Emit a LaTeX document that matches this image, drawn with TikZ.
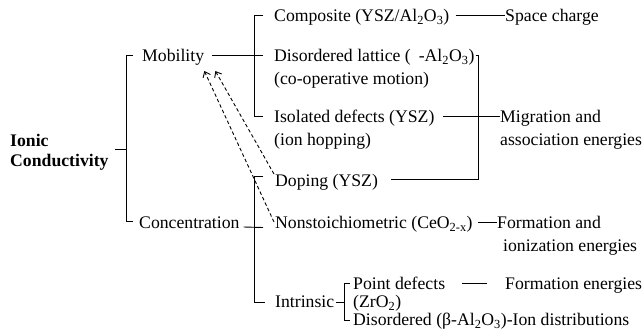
\documentclass[tikz,border=0pt]{standalone}
\usepackage{fontspec}
\setmainfont{Liberation Serif}
\usetikzlibrary{arrows.meta}
\begin{document}
\begin{tikzpicture}[x=1pt,y=-1pt,
  lbl/.style={anchor=base west, inner sep=0pt, font=\fontsize{17.7}{22}\selectfont},
  ttl/.style={anchor=base west, inner sep=0pt, font=\fontsize{17.7}{22}\selectfont\bfseries},
  ln/.style={line width=0.9pt},
  dsh/.style={line width=0.9pt, dash pattern=on 3.5pt off 2.5pt, -{Straight Barb[length=5pt,width=8pt]}}]
\useasboundingbox (0,0) rectangle (643,335);
% texts
\node[ttl] (ionic) at (10,146) {Ionic};
\node[ttl] (cond) at (10,166) {Conductivity};
\node[lbl] (mob) at (142,61.5) {Mobility};
\node[lbl] (conc) at (139,228) {Concentration};
\node[lbl] (comp) at (274,21.5) {Composite (YSZ/Al\textsubscript{2}O\textsubscript{3})};
\node[lbl] (disl) at (274,61.5) {Disordered lattice (\hspace{0.45em}-Al\textsubscript{2}O\textsubscript{3})};
\node[lbl] (coop) at (274,84) {(co-operative motion)};
\node[lbl] (iso) at (274,122.5) {Isolated defects (YSZ)};
\node[lbl] (hop) at (274,145) {(ion hopping)};
\node[lbl] (dop) at (275,186) {Doping (YSZ)};
\node[lbl] (nons) at (275,228.5) {Nonstoichiometric (CeO\textsubscript{2-x})};
\node[lbl] (intr) at (275,307.5) {Intrinsic};
\node[lbl] (space) at (505,21.5) {Space charge};
\node[lbl] (migr) at (500,122.5) {Migration and};
\node[lbl] (assoc) at (500,145) {association energies};
\node[lbl] (form) at (497,228.5) {Formation and};
\node[lbl] (ioniz) at (503,251) {ionization energies};
\node[lbl] (pdef) at (353,289.5) {Point defects};
\node[lbl] (fen) at (505,289.5) {Formation energies};
\node[lbl] (zro) at (353,307.5) {(ZrO\textsubscript{2})};
\node[lbl] (dis2) at (353,325.5) {Disordered (β-Al\textsubscript{2}O\textsubscript{3})-Ion distributions};
% bracket joints
\coordinate (b1t) at (126,55);
\coordinate (b1m) at (126,149);
\coordinate (b1b) at (126,221);
\coordinate (rootL) at (115,149);
\coordinate (b2t) at (254,15);
\coordinate (b2b) at (254,116);
\coordinate (b3t) at ([xshift=4pt,yshift=6.5pt]disl.base east);
\coordinate (dopR) at ([xshift=13pt,yshift=6.5pt]dop.base east);
\coordinate (b4t) at (254,176);
\coordinate (b4b) at (254,302);
\coordinate (b5t) at (344,283);
\coordinate (b5m) at (344,302);
\coordinate (b5b) at (344,320);
\coordinate (tipA) at ([yshift=-9.5pt]mob.base east);
\coordinate (tipB) at ([xshift=11pt,yshift=-9.5pt]mob.base east);
% root bracket
\draw[ln] (b1m) -- (rootL);
\draw[ln] ([xshift=-9pt,yshift=6.5pt]mob.base west) -- (b1t) -- (b1b) -- ([xshift=-6pt,yshift=7pt]conc.base west);
% mobility bracket
\draw[ln] ([xshift=8pt,yshift=6.5pt]mob.base east) -- ([xshift=-11pt,yshift=6.5pt]disl.base west);
\draw[ln] ([xshift=-11pt,yshift=6.5pt]comp.base west) -- (b2t) -- (b2b) -- ([xshift=-11pt,yshift=6.5pt]iso.base west);
\draw[ln] ([xshift=6pt,yshift=6.5pt]comp.base east) -- ([yshift=6.5pt]space.base west);
% migration bracket
\draw[ln] ([xshift=1pt,yshift=6.5pt]disl.base east) -- (b3t) -- (b3t |- dopR) -- (dopR);
\draw[ln] ([xshift=8pt,yshift=6.5pt]iso.base east) -- ([yshift=6.5pt]migr.base west);
% concentration bracket
\draw[ln] ([xshift=4pt,yshift=1pt]conc.base east) -- ([xshift=-12pt,yshift=1pt]nons.base west);
\draw[ln] ([xshift=-12pt,yshift=10pt]dop.base west) -- (b4t) -- (b4b) -- ([xshift=-10pt,yshift=5.5pt]intr.base west);
\draw[ln] ([xshift=5pt,yshift=6.5pt]nons.base east) -- ([yshift=6.5pt]form.base west);
% intrinsic bracket
\draw[ln] ([xshift=2pt,yshift=5.5pt]intr.base east) -- (b5m);
\draw[ln] ([xshift=-3pt,yshift=6.5pt]pdef.base west) -- (b5t) -- (b5b) -- ([xshift=-3pt,yshift=5.5pt]dis2.base west);
\draw[ln] ([xshift=17pt,yshift=6.5pt]pdef.base east) -- ([xshift=-18pt,yshift=6.5pt]fen.base west);
% dashed arrows
\draw[dsh] ([xshift=-1pt,yshift=6.5pt]nons.base west) -- (tipA);
\draw[dsh] ([xshift=-1pt,yshift=12pt]dop.base west) -- (tipB);
\end{tikzpicture}
\end{document}
